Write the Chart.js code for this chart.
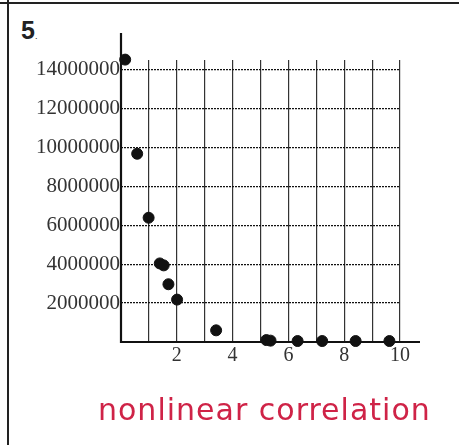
<!DOCTYPE html>
<html>
<head>
<meta charset="utf-8">
<script src="https://cdn.jsdelivr.net/npm/chart.js@4"></script>
<style>
  html, body { margin: 0; padding: 0; background: #fff; }
  #wrap { position: relative; width: 459px; height: 445px; overflow: hidden; }
  #c { position: absolute; left: 0; top: 0; }
  #topline { position: absolute; left: 0; top: 2px; width: 459px; height: 2px; background: #222; }
  #leftline { position: absolute; left: 7px; top: 0; width: 2px; height: 445px; background: #222; }
  #num { position: absolute; left: 21px; top: 16px; font: bold 25px "Liberation Sans", Arial, sans-serif; color: #222; }
  #num span { font-size: 9px; font-weight: normal; }
  #note { position: absolute; left: 98px; top: 392px; font: 30px "DejaVu Sans", sans-serif; color: #cf2347; letter-spacing: 1px; }
</style>
</head>
<body>
<div id="wrap">
  <div id="topline"></div>
  <div id="leftline"></div>
  <div id="num">5<span>.</span></div>
  <canvas id="c" width="459" height="445"></canvas>
  <div id="note">nonlinear correlation</div>
</div>
<script>
var xValues = [0.15, 0.58, 0.99, 1.39, 1.53, 1.70, 2.01, 3.41, 5.21, 5.36, 6.33, 7.21, 8.41, 9.62]
var yValues = [14520000, 9680000, 6390000, 4040000, 3940000, 2970000, 2180000, 600000, 100000, 70000, 50000, 50000, 50000, 50000]
var xGrid = [0, 1, 2, 3, 4, 5, 6, 7, 8, 9, 10]
var xTicks = [2, 4, 6, 8, 10]
var yTicks = [0, 2000000, 4000000, 6000000, 8000000, 10000000, 12000000, 14000000]

var points = []
for (var i = 0; i < xValues.length; i++) {
    points.push({x: xValues[i], y: yValues[i]})
}

// axis lines, drawn a bit longer than the plot area like on the worksheet
var axisLines = {
    id: 'axisLines',
    beforeDatasetsDraw: function(chart) {
        var a = chart.chartArea
        var ctx = chart.ctx
        ctx.save()
        ctx.strokeStyle = '#111'
        ctx.lineWidth = 2.2
        ctx.beginPath()
        ctx.moveTo(a.left, a.top - 27)
        ctx.lineTo(a.left, a.bottom)
        ctx.lineTo(a.right + 20, a.bottom)
        ctx.stroke()
        ctx.restore()
    }
}

var serif = '"Liberation Serif", "Times New Roman", serif'

var ctx = document.getElementById('c').getContext('2d')
var chart = new Chart(ctx, {
    type: 'scatter',
    data: {
        datasets: [{
            data: points,
            backgroundColor: '#111',
            borderColor: '#111',
            pointRadius: 5.5,
            pointHoverRadius: 5.5,
            clip: false
        }]
    },
    options: {
        responsive: false,
        animation: false,
        events: [],
        layout: { padding: { left: 0, right: 59, top: 60, bottom: 73 } },
        plugins: { legend: { display: false }, tooltip: { enabled: false } },
        scales: {
            x: {
                type: 'linear',
                min: 0,
                max: 10,
                afterBuildTicks: function(s) {
                    s.ticks = xGrid.map(function(v) { return {value: v} })
                },
                afterFit: function(s) { s.height = 30 },
                ticks: {
                    padding: 2,
                    color: '#333',
                    autoSkip: false,
                    maxRotation: 0,
                    font: { family: serif, size: 20 },
                    callback: function(v) { return xTicks.indexOf(v) >= 0 ? String(v) : '' }
                },
                grid: { color: '#333', lineWidth: 1.2, drawTicks: false },
                border: { display: false }
            },
            y: {
                type: 'linear',
                min: 0,
                max: 14500000,
                afterBuildTicks: function(s) {
                    s.ticks = yTicks.map(function(v) { return {value: v} })
                },
                afterFit: function(s) { s.width = 121 },
                ticks: {
                    padding: 1,
                    color: '#333',
                    autoSkip: false,
                    font: { family: serif, size: 21 },
                    callback: function(v) { return v === 0 ? '' : String(v) }
                },
                grid: { color: '#111', lineWidth: 1.3, drawTicks: false },
                border: { display: false, dash: [2, 1] }
            }
        }
    },
    plugins: [axisLines]
})
</script>
</body>
</html>
